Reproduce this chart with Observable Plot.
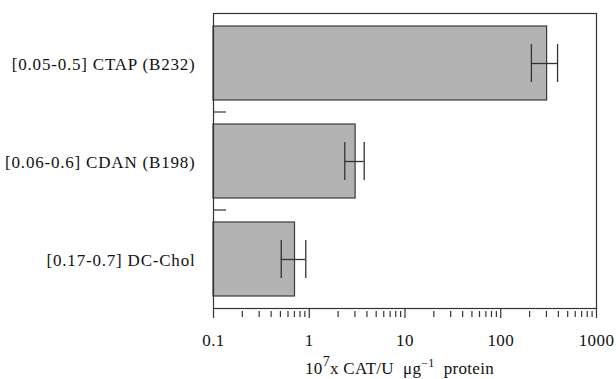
<!DOCTYPE html>
<html>
<head>
<meta charset="utf-8">
<script src="https://cdn.jsdelivr.net/npm/d3@7"></script>
<script src="https://cdn.jsdelivr.net/npm/@observablehq/plot@0.6"></script>
<style>
  html, body { margin: 0; padding: 0; background: #fff; }
  g[aria-label="y-axis tick label"] text { letter-spacing: 0.8px; }
  g[aria-label="x-axis tick label"] text { letter-spacing: 0.4px; }
</style>
</head>
<body>
<div id="chart"></div>
<script>
const categories = ["[0.05-0.5] CTAP (B232)", "[0.06-0.6] CDAN (B198)", "[0.17-0.7] DC-Chol"];
const values = [305, 3.05, 0.71];
const errLow = [209, 2.35, 0.51];
const errHigh = [392, 3.75, 0.92];
const xDomain = [0.1, 1000];
const majorTicks = [0.1, 1, 10, 100, 1000];
const minorTicks = [0.2,0.3,0.4,0.5,0.6,0.7,0.8,0.9, 2,3,4,5,6,7,8,9, 20,30,40,50,60,70,80,90, 200,300,400,500,600,700,800,900];

const data = categories.map((c, i) => ({cat: c, v: values[i], lo: errLow[i], hi: errHigh[i]}));

const extras = (index, scales, values, dims) => {
  const y = scales.y, x = scales.x;
  const bw = y.bandwidth();
  const g = d3.create("svg:g").attr("stroke", "#333").attr("stroke-width", 1.2);
  for (let i = 0; i < categories.length - 1; i++) {
    const yy = (y(categories[i]) + y(categories[i + 1])) / 2 + bw / 2;
    const x0 = x(xDomain[0]);
    g.append("line").attr("x1", x0).attr("x2", x0 + 13).attr("y1", yy).attr("y2", yy);
  }
  // axis title with superscripts
  const cx = (dims.marginLeft + dims.width - dims.marginRight) / 2 - 5;
  const t = d3.create("svg:text")
    .attr("x", cx).attr("y", dims.height - 5)
    .attr("text-anchor", "middle").attr("fill", "#111")
    .attr("font-family", "Liberation Serif").attr("font-size", 17)
    .attr("letter-spacing", "0.3px");
  t.append("tspan").text("10");
  t.append("tspan").attr("dy", -8).attr("font-size", 14).text("7");
  t.append("tspan").attr("dy", 8).text("x CAT/U  \u03bcg");
  t.append("tspan").attr("dy", -7).attr("font-size", 12).text("\u22121");
  t.append("tspan").attr("dy", 7).text("  protein");
  const outer = d3.create("svg:g");
  outer.append(() => g.node());
  outer.append(() => t.node());
  return outer.node();
};

const chart = Plot.plot({
  width: 616,
  height: 379,
  marginLeft: 213,
  marginRight: 20,
  marginTop: 13,
  marginBottom: 71,
  style: {fontFamily: "Liberation Serif", fontSize: "17px", background: "#fff", color: "#111"},
  x: {type: "log", domain: xDomain},
  y: {domain: categories, paddingInner: 0.25, paddingOuter: 0.125},
  marks: [
    Plot.barX(data, {y: "cat", x1: xDomain[0], x2: "v", fill: "#b3b3b3", stroke: "#3a3a3a", strokeWidth: 1.2}),
    Plot.ruleY(data, {y: "cat", x1: "lo", x2: "hi", stroke: "#333", strokeWidth: 1.3}),
    Plot.tickX(data, {y: "cat", x: "lo", stroke: "#333", strokeWidth: 1.3, insetTop: 18, insetBottom: 18}),
    Plot.tickX(data, {y: "cat", x: "hi", stroke: "#333", strokeWidth: 1.3, insetTop: 18, insetBottom: 18}),
    Plot.frame({stroke: "#333", strokeWidth: 1.2}),
    Plot.axisX(majorTicks, {anchor: "bottom", tickSize: 10, tickPadding: 15, tickFormat: d => String(d), label: null, stroke: "#333", strokeWidth: 1.2}),
    Plot.axisX(minorTicks, {anchor: "bottom", tickSize: 6, dy: 3, tickFormat: () => "", label: null, stroke: "#333", strokeWidth: 1.2}),
    Plot.axisY({anchor: "left", tickSize: 0, tickPadding: 18, dy: 1, label: null}),
    extras
  ]
});
document.getElementById("chart").appendChild(chart);
</script>
</body>
</html>
